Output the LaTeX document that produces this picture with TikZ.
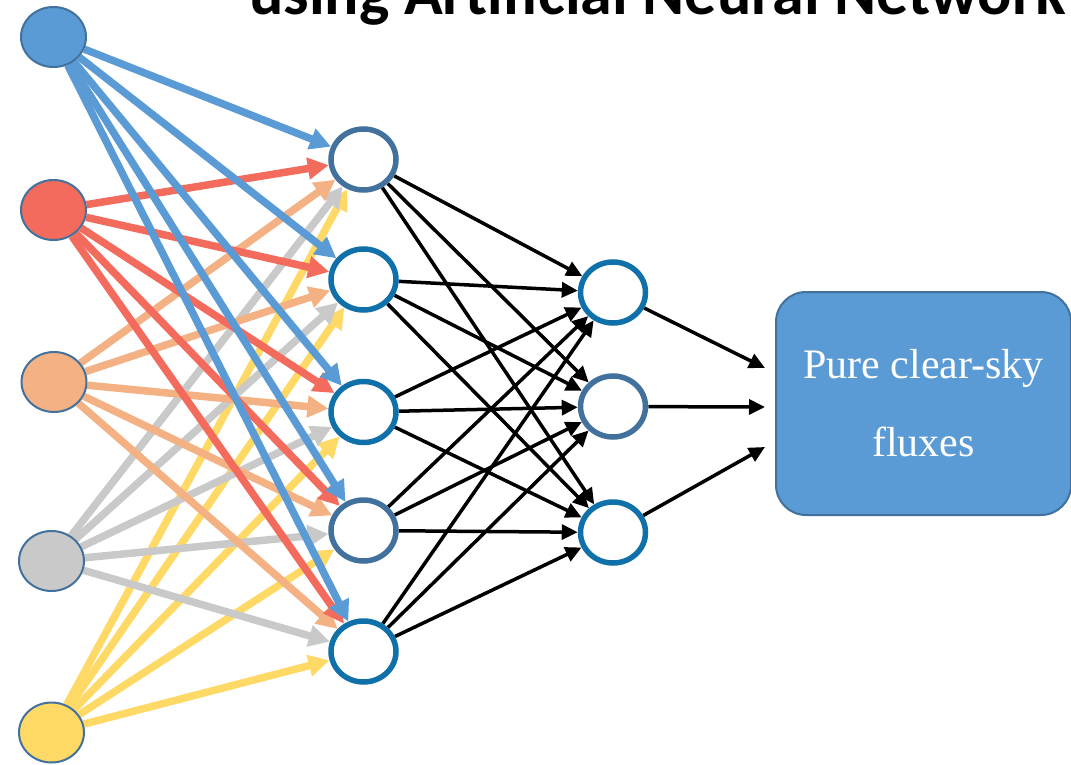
\documentclass[tikz,border=0pt]{standalone}
\usepackage{fontspec}
\setmainfont{Liberation Serif}
\newfontfamily\titlefont{Carlito}
\usetikzlibrary{shapes.geometric,arrows.meta}
\definecolor{inBlue}{HTML}{5B9BD5}
\definecolor{inRed}{HTML}{F36B5C}
\definecolor{inOrange}{HTML}{F4B183}
\definecolor{inGray}{HTML}{C9C9C9}
\definecolor{inYellow}{HTML}{FFD966}
\definecolor{slate}{HTML}{41719C}
\definecolor{bright}{HTML}{1070AA}
\pgfdeclarelayer{bg}
\pgfsetlayers{bg,main}
\tikzset{
  innode/.style={ellipse, draw=slate, fill=#1, line width=2pt,
    minimum width=65pt, minimum height=60pt, inner sep=0pt},
  neuron/.style={ellipse, draw=#1, fill=white, line width=5.5pt,
    minimum width=65pt, minimum height=61pt, inner sep=0pt},
  colarrow/.style={draw=#1, line width=7.5pt, -{Triangle[length=21pt,width=21pt]}},
  blackarrow/.style={draw=black, line width=3.5pt, -{Triangle[length=16pt,width=15pt]}},
  outbox/.style={draw=slate, fill=inBlue, line width=2pt, rounded corners=30pt,
    minimum width=295pt, minimum height=223pt, inner sep=0pt, align=center,
    text=white, font=\fontsize{42}{78}\selectfont},
  titletext/.style={anchor=base west, inner sep=0pt,
    font=\titlefont\bfseries\fontsize{64}{70}\selectfont}
}
\begin{document}
\begin{tikzpicture}[x=1pt,y=-1pt]
\useasboundingbox (0,0) rectangle (1071,765);
\clip (0,0) rectangle (1071,765);
% title (cut off at top)
\node[titletext] (title) at (249,15) {using Artificial Neural Network};
% input layer
\node[innode=inBlue]   (I1) at (53.5,37) {};
\node[innode=inRed]    (I2) at (53.5,210) {};
\node[innode=inOrange] (I3) at (54,382) {};
\node[innode=inGray]   (I4) at (51.5,561) {};
\node[innode=inYellow] (I5) at (51.5,732.5) {};
% hidden layer
\node[neuron=slate]  (H1) at (363.5,159.5) {};
\node[neuron=bright] (H2) at (363.5,279.5) {};
\node[neuron=bright] (H3) at (363.5,412) {};
\node[neuron=slate]  (H4) at (363.5,530.5) {};
\node[neuron=bright] (H5) at (363.5,651.5) {};
% output layer
\node[neuron=bright] (O1) at (613,292.5) {};
\node[neuron=slate]  (O2) at (613,406.5) {};
\node[neuron=bright] (O3) at (613,532.5) {};
% result box
\node[outbox] (box) at (923.5,403.5) {Pure clear-sky\\fluxes};
\coordinate (t1) at ([xshift=-10pt,yshift=35.5pt]box.west);
\coordinate (t2) at ([xshift=-10pt,yshift=-3.5pt]box.west);
\coordinate (t3) at ([xshift=-10pt,yshift=-43.5pt]box.west);
\begin{pgfonlayer}{bg}
  \foreach \h in {1,...,5} \draw[colarrow=inYellow] (I5) -- (H\h);
  \foreach \h in {1,...,5} \draw[colarrow=inGray] (I4) -- (H\h);
  \foreach \h in {1,...,5} \draw[colarrow=inOrange] (I3) -- (H\h);
  \foreach \h in {1,...,5} \draw[colarrow=inRed] (I2) -- (H\h);
  \foreach \h in {1,...,5} \draw[colarrow=inBlue] (I1) -- (H\h);
  \foreach \h in {1,...,5}
    \foreach \o in {1,2,3} \draw[blackarrow] (H\h) -- (O\o);
  \draw[blackarrow] (O1) -- (t1);
  \draw[blackarrow] (O2) -- (t2);
  \draw[blackarrow] (O3) -- (t3);
\end{pgfonlayer}
\end{tikzpicture}
\end{document}
